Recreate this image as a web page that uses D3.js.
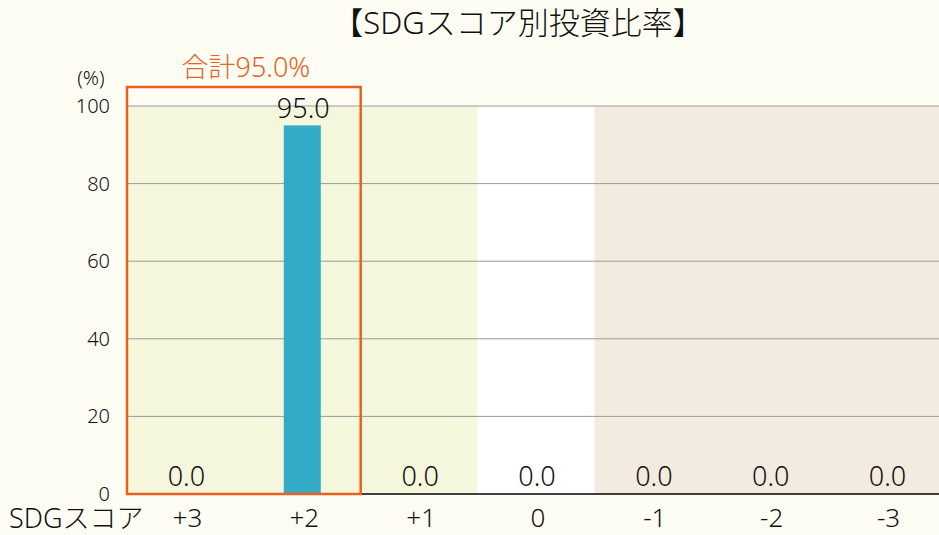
<!DOCTYPE html>
<html>
<head>
<meta charset="utf-8">
<script src="https://cdn.jsdelivr.net/npm/d3@7"></script>
<style>
  body { margin: 0; background: #fdfdf4; }
  text { font-family: "Noto Sans", "Noto Sans CJK JP", sans-serif; }
</style>
</head>
<body>
<div class="chart"></div>
<script>
// data
var categories = ["+3", "+2", "+1", "0", "-1", "-2", "-3"];
var values = [0.0, 95.0, 0.0, 0.0, 0.0, 0.0, 0.0];
var yTicks = [0, 20, 40, 60, 80, 100];
var title = "【SDGスコア別投資比率】";
var totalLabel = "合計95.0%";

var svgWidth = 939, svgHeight = 535;
var margin = { top: 106, right: -6, bottom: 41, left: 127 };
var width = svgWidth - margin.left - margin.right;
var height = svgHeight - margin.top - margin.bottom;

var svg = d3.select(".chart").append("svg")
  .attr("width", svgWidth)
  .attr("height", svgHeight);

svg.append("rect").attr("width", svgWidth).attr("height", svgHeight).attr("fill", "#fdfdf4");

var chartGroup = svg.append("g")
  .attr("transform", `translate(${margin.left}, ${margin.top})`);

var x = d3.scaleBand().domain(categories).range([0, width]).padding(0);
var y = d3.scaleLinear().domain([0, 100]).range([height, 0]);

// background zones: positive / neutral / negative
var zones = [
  { from: "+3", to: "+1", color: "#f5f7dd" },
  { from: "0", to: "0", color: "#ffffff" },
  { from: "-1", to: "-3", color: "#f4ebe0" }
];
chartGroup.selectAll(".zone")
  .data(zones)
  .enter()
  .append("rect")
  .attr("x", d => x(d.from))
  .attr("y", 0)
  .attr("width", d => x(d.to) + x.bandwidth() - x(d.from))
  .attr("height", height)
  .attr("fill", d => d.color);

// gridlines
chartGroup.selectAll(".grid")
  .data(yTicks.filter(t => t > 0))
  .enter()
  .append("line")
  .attr("x1", 0)
  .attr("x2", width)
  .attr("y1", d => y(d))
  .attr("y2", d => y(d))
  .attr("stroke", "#9a9a9a")
  .attr("stroke-width", 1);

// baseline
chartGroup.append("line")
  .attr("x1", 0).attr("x2", width)
  .attr("y1", y(0)).attr("y2", y(0))
  .attr("stroke", "#000").attr("stroke-width", 1.5);

// bars
var barW = 37;
chartGroup.selectAll(".bar")
  .data(values)
  .enter()
  .append("rect")
  .attr("x", (d, i) => x(categories[i]) + x.bandwidth() / 2 - barW / 2)
  .attr("y", d => y(d))
  .attr("width", barW)
  .attr("height", d => height - y(d))
  .attr("fill", "#33abc6");

// value labels
chartGroup.selectAll(".val")
  .data(values)
  .enter()
  .append("text")
  .attr("x", (d, i) => x(categories[i]) + x.bandwidth() / 2 + 1)
  .attr("y", d => d > 10 ? y(d) - 7 : y(0) - 8)
  .attr("text-anchor", "middle")
  .attr("font-size", 27)
  .attr("font-weight", 300)
  .attr("fill", "#111")
  .text(d => d.toFixed(1));

// y axis labels
chartGroup.selectAll(".ytick")
  .data(yTicks)
  .enter()
  .append("text")
  .attr("x", -17)
  .attr("y", d => y(d) + 7)
  .attr("text-anchor", "end")
  .attr("font-size", 20)
  .attr("font-weight", 300)
  .attr("fill", "#111")
  .text(d => d);

svg.append("text")
  .attr("x", 91).attr("y", 85)
  .attr("text-anchor", "middle")
  .attr("font-size", 20)
  .attr("font-weight", 300)
  .attr("fill", "#111")
  .text("(%)");

// x axis labels
chartGroup.selectAll(".xtick")
  .data(categories)
  .enter()
  .append("text")
  .attr("x", d => x(d) + x.bandwidth() / 2 + 2)
  .attr("y", height + 33)
  .attr("text-anchor", "middle")
  .attr("font-size", 26)
  .attr("font-weight", 300)
  .attr("fill", "#111")
  .text(d => d);

svg.append("text")
  .attr("x", 9).attr("y", svgHeight - 7)
  .attr("font-size", 27)
  .attr("font-weight", 300)
  .attr("fill", "#111")
  .text("SDGスコア");

// orange box around positive scores
var boxCats = ["+3", "+2"];
chartGroup.append("rect")
  .attr("x", x(boxCats[0]))
  .attr("y", -19)
  .attr("width", x(boxCats[1]) + x.bandwidth() - x(boxCats[0]))
  .attr("height", height + 19)
  .attr("fill", "none")
  .attr("stroke", "#e8621d")
  .attr("stroke-width", 2.5);

svg.append("text")
  .attr("x", margin.left + x(boxCats[0]) + (x(boxCats[1]) + x.bandwidth() - x(boxCats[0])) / 2 + 2)
  .attr("y", 77)
  .attr("text-anchor", "middle")
  .attr("font-size", 27)
  .attr("font-weight", 300)
  .attr("fill", "#e8621d")
  .text(totalLabel);

// title
svg.append("text")
  .attr("x", 518).attr("y", 34)
  .attr("text-anchor", "middle")
  .attr("font-size", 31)
  .attr("font-weight", 300)
  .attr("fill", "#111")
  .text(title);
</script>
</body>
</html>
